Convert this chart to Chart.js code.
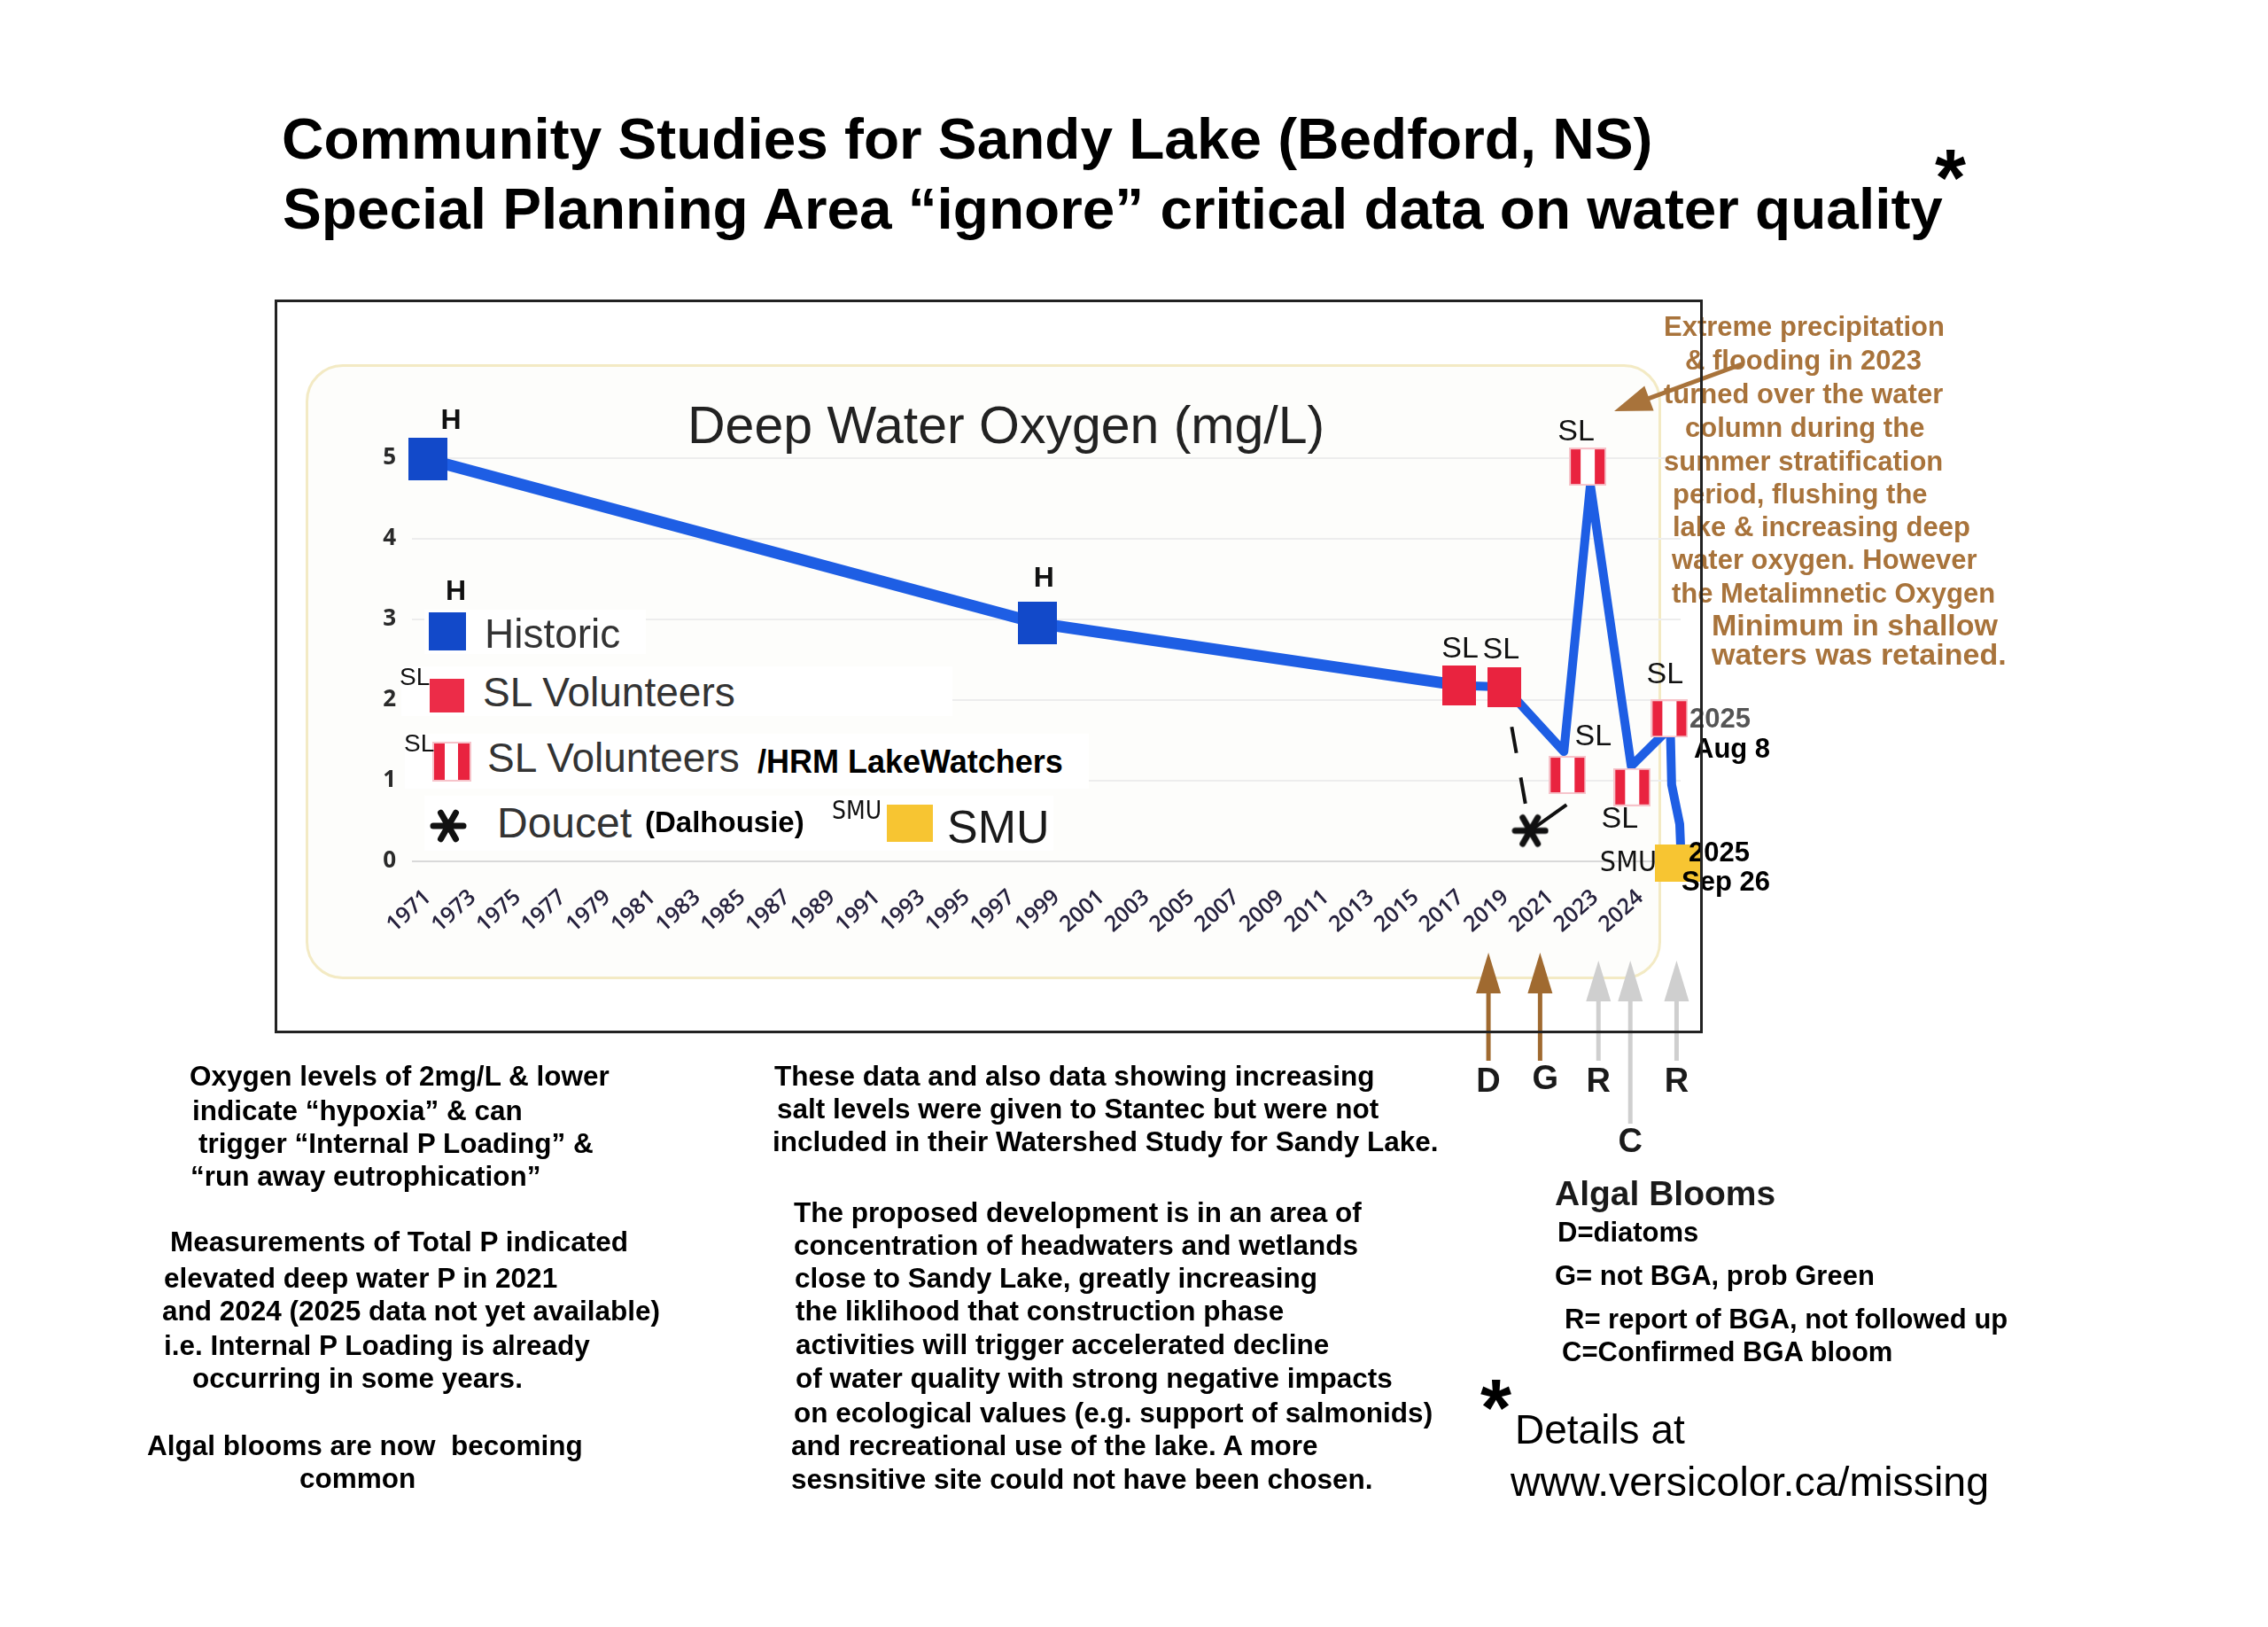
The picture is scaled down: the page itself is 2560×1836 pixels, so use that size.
<!DOCTYPE html>
<html>
<head>
<meta charset="utf-8">
<title>Deep Water Oxygen - Sandy Lake</title>
<script src="https://cdn.jsdelivr.net/npm/chart.js@4.4.1/dist/chart.umd.min.js"></script>
<style>
  html, body { margin:0; padding:0; background:#fff; }
  #page { position:relative; width:2560px; height:1836px; overflow:hidden;
          font-family:"Liberation Sans", Arial, sans-serif; color:#000; }
  #panel { position:absolute; left:345px; top:411px; width:1530px; height:694px;
           border:3px solid #f3eac4; border-radius:42px; background:#fdfdfb; box-sizing:border-box; }
  #frame { position:absolute; left:310px; top:338px; width:1612px; height:828px;
           border:3px solid #222; box-sizing:border-box; pointer-events:none; }
  #chart { position:absolute; left:0; top:0; }
  .t { position:absolute; white-space:pre; line-height:1; }
  .box { position:absolute; }
  .row { position:absolute; background:#fff; }
  .striped { background:linear-gradient(to right,#e9233f 0 30%,#fff 30% 68%,#e9233f 68% 100%);
             box-shadow:0 0 0 2px #f6c3ca; }
</style>
</head>
<body>
<div id="page">
  <div id="panel"></div>
  <canvas id="chart" width="2560" height="1836"></canvas>
  <div id="legend"></div>
  <div id="texts"></div>
  <div id="frame"></div>
</div>
<script>
// Tick labels of the x axis (one slot per label)
const tickLabels = ['1971','1973','1975','1977','1979','1981','1983','1985','1987','1989',
  '1991','1993','1995','1997','1999','2001','2003','2005','2007','2009',
  '2011','2013','2015','2017','2019','2021','2023','2024'];
const yTicks = [0, 1, 2, 3, 4, 5];

// Blue trace (x in tick slots, y in mg/L)
const pathX = [0, 13.58, 22.97, 23.98, 25.30, 25.89, 26.80, 27.67, 27.70, 27.88, 27.90];
const pathY = [4.98, 2.95, 2.18, 2.16, 1.36, 4.66, 1.18, 1.66, 0.95, 0.46, 0.19];

// Markers
const historicX = [0, 13.58];
const historicY = [4.98, 2.95];
const slX = [22.97, 23.98];
const slY = [2.18, 2.16];
const lakeWatchX = [25.38, 25.83, 26.82, 27.65];
const lakeWatchY = [1.07, 4.89, 0.92, 1.77];
const doucetX = [24.55];
const doucetY = [0.38];
const smuX = [27.86];
const smuY = [-0.02];

// Doucet links (dashed from 2019, stroke to 2021)
const dashX = [23.98, 24.55];
const dashY = [2.16, 0.38];
const curlX = [24.55, 25.36];
const curlY = [0.38, 0.70];

// Algal bloom arrows under the axis
const bloomX = [23.62, 24.77, 26.07, 26.78, 27.81];
const bloomCodes = ['D', 'G', 'R', 'C', 'R'];

const pts = (xs, ys) => xs.map((v, i) => ({x: v, y: ys[i]}));

// marker images
function rectImg(w, h, fill){
  const c = document.createElement('canvas'); c.width = w; c.height = h;
  const g = c.getContext('2d'); g.fillStyle = fill; g.fillRect(0, 0, w, h);
  return c;
}
function stripedImg(w, h){
  const c = document.createElement('canvas'); c.width = w; c.height = h;
  const g = c.getContext('2d');
  g.fillStyle = '#f6c3ca'; g.fillRect(0, 0, w, h);
  g.fillStyle = '#e9233f'; g.fillRect(2, 2, w-4, h-4);
  g.fillStyle = '#ffffff'; g.fillRect(Math.round(w*0.30), 2, Math.round(w*0.38), h-4);
  return c;
}
function starImg(s){
  const c = document.createElement('canvas'); c.width = s; c.height = s;
  const g = c.getContext('2d');
  g.strokeStyle = '#111'; g.lineWidth = 7; g.lineCap = 'round';
  const r = s/2 - 4;
  for (let k = 0; k < 3; k++){
    const a = k*Math.PI/3;
    g.beginPath();
    g.moveTo(s/2 - r*Math.cos(a), s/2 - r*Math.sin(a));
    g.lineTo(s/2 + r*Math.cos(a), s/2 + r*Math.sin(a));
    g.stroke();
  }
  return c;
}

const tagFont = '34px "Liberation Sans", Arial, sans-serif';
const tagGroups = [
  {xs: historicX, ys: historicY, tags: ['H','H'], dx: [26, 7], dy: [-43, -50], font: 'bold 32px "Liberation Sans", Arial, sans-serif'},
  {xs: slX, ys: slY, tags: ['SL','SL'], dx: [1, -4], dy: [-41, -42], font: tagFont},
  {xs: lakeWatchX, ys: lakeWatchY, tags: ['SL','SL','SL','SL'], dx: [29, -13, -14, -5], dy: [-43, -39, 36, -49], font: tagFont},
  {xs: smuX, ys: smuY, tags: ['SMU'], dx: [-57], dy: [1], font: '32px "Liberation Sans Narrow", "DejaVu Sans Condensed", sans-serif'}
];

const overlay = {
  id: 'overlay',
  afterDatasetsDraw(chart){
    const {ctx, scales: {x, y}} = chart;
    ctx.save();
    ctx.textAlign = 'center';
    ctx.textBaseline = 'middle';
    ctx.fillStyle = '#111';
    tagGroups.forEach(g => {
      ctx.font = g.font;
      g.xs.forEach((xv, i) => {
        ctx.fillText(g.tags[i], x.getPixelForValue(xv) + g.dx[i], y.getPixelForValue(g.ys[i]) + g.dy[i]);
      });
    });

    // bloom arrows
    bloomX.forEach((bx, i) => {
      const px = x.getPixelForValue(bx);
      const brown = i < 2;
      const col = brown ? '#a06a30' : '#cfcfcf';
      const tip = brown ? 1075 : 1084;
      const end = bloomCodes[i] === 'C' ? 1268 : 1197;
      ctx.strokeStyle = col; ctx.fillStyle = col; ctx.lineWidth = 5;
      ctx.beginPath(); ctx.moveTo(px, tip + 30); ctx.lineTo(px, end); ctx.stroke();
      ctx.beginPath(); ctx.moveTo(px, tip); ctx.lineTo(px - 14, tip + 46); ctx.lineTo(px + 14, tip + 46); ctx.closePath(); ctx.fill();
      ctx.fillStyle = '#1a1a1a';
      ctx.font = 'bold 38px "Liberation Sans", Arial, sans-serif';
      const ly = bloomCodes[i] === 'C' ? 1290 : (bloomCodes[i] === 'G' ? 1219 : 1222);
      ctx.fillText(bloomCodes[i], px + (bloomCodes[i] === 'G' ? 6 : 0), ly);
    });

    // brown pointer to the 2023 peak
    const x0 = 1966, y0 = 411, x1 = 1822, y1 = 464;
    const ang = Math.atan2(y1 - y0, x1 - x0);
    ctx.strokeStyle = '#a8733b'; ctx.fillStyle = '#a8733b'; ctx.lineWidth = 5;
    ctx.beginPath(); ctx.moveTo(x0, y0); ctx.lineTo(x1 - 30*Math.cos(ang), y1 - 30*Math.sin(ang)); ctx.stroke();
    ctx.beginPath();
    ctx.moveTo(x1, y1);
    ctx.lineTo(x1 - 42*Math.cos(ang) + 15*Math.sin(ang), y1 - 42*Math.sin(ang) - 15*Math.cos(ang));
    ctx.lineTo(x1 - 42*Math.cos(ang) - 15*Math.sin(ang), y1 - 42*Math.sin(ang) + 15*Math.cos(ang));
    ctx.closePath(); ctx.fill();
    ctx.restore();
  }
};

new Chart(document.getElementById('chart'), {
  type: 'scatter',
  data: {
    datasets: [
      {data: pts(historicX, historicY), pointStyle: rectImg(44, 48, '#1249c9'), pointRadius: 20, order: 0, clip: false},
      {data: pts(slX, slY), pointStyle: rectImg(38, 45, '#e9233f'), pointRadius: 20, order: 0, clip: false},
      {data: pts(lakeWatchX, lakeWatchY), pointStyle: stripedImg(42, 43), pointRadius: 20, order: 0, clip: false},
      {data: pts(smuX, smuY), pointStyle: rectImg(53, 42, '#f7c532'), pointRadius: 20, order: 0, clip: false},
      {data: pts(doucetX, doucetY), pointStyle: starImg(42), pointRadius: 20, order: 0, clip: false},
      {type: 'line', data: pts(pathX, pathY), borderColor: '#1e5ee4', pointRadius: 0, tension: 0,
       borderJoinStyle: 'round', borderCapStyle: 'round', order: 5, clip: false,
       segment: {borderWidth: c => c.p0DataIndex < 2 ? 13 : 10}},
      {type: 'line', data: pts(dashX, dashY), borderColor: '#111', borderWidth: 4, borderDash: [30, 28],
       borderDashOffset: 12.3, pointRadius: 0, order: 6, clip: false},
      {type: 'line', data: pts(curlX, curlY), borderColor: '#111', borderWidth: 4, pointRadius: 0, order: 6, clip: false}
    ]
  },
  options: {
    responsive: false,
    devicePixelRatio: 1,
    animation: false,
    layout: {padding: {left: 0, top: 471, right: 663, bottom: 0}},
    plugins: {legend: {display: false}, tooltip: {enabled: false}, title: {display: false}},
    scales: {
      x: {
        type: 'linear', min: -0.355, max: 27.9,
        afterBuildTicks: s => { s.ticks = tickLabels.map((_, i) => ({value: i})); },
        afterFit: s => { s.height = 864; },
        ticks: {autoSkip: false, minRotation: 42, maxRotation: 42, padding: 18,
          callback: v => tickLabels[v],
          color: '#26213d', font: {family: '"Open Sans", sans-serif', size: 25, weight: '600'}},
        grid: {display: false},
        border: {display: false}
      },
      y: {
        min: 0, max: 5.5,
        afterBuildTicks: s => { s.ticks = yTicks.map(v => ({value: v})); },
        afterFit: s => { s.width = 465; },
        ticks: {padding: 18, color: '#2a2a2a', font: {family: '"Open Sans", sans-serif', size: 26, weight: '700'}},
        grid: {drawTicks: false, lineWidth: 2, color: c => c.tick && c.tick.value === 0 ? '#d9d9d9' : '#ededed'},
        border: {display: false}
      }
    }
  },
  plugins: [overlay]
});

// ---- text layer ----
function put(parent, txt, x, cy, size, o){
  o = o || {};
  const d = document.createElement('div');
  d.className = 't';
  d.textContent = txt;
  d.style.left = x + 'px';
  d.style.top = (cy - size*0.49) + 'px';
  d.style.fontSize = size + 'px';
  if (o.bold) d.style.fontWeight = 'bold';
  if (o.color) d.style.color = o.color;
  if (o.family) d.style.fontFamily = o.family;
  parent.appendChild(d);
  return d;
}
function block(parent, x, y, w, h, cls, bg){
  const d = document.createElement('div');
  d.className = cls; d.style.left = x+'px'; d.style.top = y+'px';
  d.style.width = w+'px'; d.style.height = h+'px';
  if (bg) d.style.background = bg;
  parent.appendChild(d);
  return d;
}

const T = document.getElementById('texts');
const L = document.getElementById('legend');
const narrow = '"Liberation Sans Narrow", "DejaVu Sans Condensed", sans-serif';

// titles
put(T, 'Community Studies for Sandy Lake (Bedford, NS)', 318, 156, 65.7, {bold: true});
put(T, 'Special Planning Area \u201cignore\u201d critical data on water quality', 319, 235, 65.7, {bold: true});
put(T, '*', 2184, 200, 90, {bold: true});
put(T, 'Deep Water Oxygen (mg/L)', 776, 480, 59, {color: '#222'});

// legend
block(L, 479, 688, 250, 50, 'row');
block(L, 453, 752, 622, 56, 'row');
block(L, 457, 828, 772, 62, 'row');
block(L, 479, 898, 710, 62, 'row');
block(L, 484, 691, 42, 43, 'box', '#1249c9');
block(L, 485, 766, 39, 38, 'box', '#ec2c48');
block(L, 490, 839, 40, 41, 'box striped');
block(L, 1001, 908, 52, 42, 'box', '#f7c532');
const star = document.createElement('canvas');
star.style.position = 'absolute'; star.style.left = '485px'; star.style.top = '911px';
star.width = 42; star.height = 42;
star.getContext('2d').drawImage(starImg(42), 0, 0);
L.appendChild(star);
put(L, 'H', 503, 666, 32, {bold: true, color: '#111'});
put(L, 'SL', 451, 764, 28, {color: '#111'});
put(L, 'SL', 456, 839, 28, {color: '#111'});
put(L, 'Historic', 547, 715, 46, {color: '#333'});
put(L, 'SL Volunteers', 545, 781, 46, {color: '#333'});
put(L, 'SL Volunteers', 550, 855, 46, {color: '#333'});
put(L, '/HRM LakeWatchers', 855, 860, 36, {bold: true});
put(L, 'Doucet', 561, 929, 48, {color: '#333'});
put(L, '(Dalhousie)', 728, 927, 33, {bold: true});
put(L, 'SMU', 939, 915, 28, {family: narrow, color: '#111'});
put(L, 'SMU', 1069, 932, 52, {color: '#1a1a1a'});

// date notes at the 2025 points
put(T, '2025', 1907, 810, 31, {bold: true, color: '#555'});
put(T, 'Aug 8', 1912, 844, 31, {bold: true});
put(T, '2025', 1906, 961, 31, {bold: true});
put(T, 'Sep 26', 1898, 994, 31, {bold: true});

// brown note
const brown = '#a8733b';
[
  ['Extreme precipitation', 1878, 368, 31],
  ['& flooding in 2023', 1902, 406, 31],
  ['turned over the water', 1878, 444, 31],
  ['column during the', 1902, 482, 31],
  ['summer stratification', 1878, 520, 31],
  ['period, flushing the', 1888, 557, 31],
  ['lake & increasing deep', 1888, 594, 31],
  ['water oxygen. However', 1887, 631, 31],
  ['the Metalimnetic Oxygen', 1887, 669, 31],
  ['Minimum in shallow', 1932, 705, 34],
  ['waters was retained.', 1932, 738, 34]
].forEach(r => put(T, r[0], r[1], r[2], r[3], {bold: true, color: brown}));

// left notes
[
  ['Oxygen levels of 2mg/L & lower', 214, 1214],
  ['indicate \u201chypoxia\u201d & can', 217, 1253],
  ['trigger \u201cInternal P Loading\u201d &', 224, 1290],
  ['\u201crun away eutrophication\u201d', 215, 1327],
  ['Measurements of Total P indicated', 192, 1401],
  ['elevated deep water P in 2021', 185, 1442],
  ['and 2024 (2025 data not yet available)', 183, 1479],
  ['i.e. Internal P Loading is already', 185, 1518],
  ['occurring in some years.', 217, 1555],
  ['Algal blooms are now  becoming', 166, 1631],
  ['common', 338, 1668]
].forEach(r => put(T, r[0], r[1], r[2], 31.5, {bold: true}));

// middle notes
[
  ['These data and also data showing increasing', 874, 1214],
  ['salt levels were given to Stantec but were not', 877, 1251],
  ['included in their Watershed Study for Sandy Lake.', 872, 1288],
  ['The proposed development is in an area of', 896, 1368],
  ['concentration of headwaters and wetlands', 896, 1405],
  ['close to Sandy Lake, greatly increasing', 897, 1442],
  ['the liklihood that construction phase', 898, 1479],
  ['activities will trigger accelerated decline', 898, 1517],
  ['of water quality with strong negative impacts', 898, 1555],
  ['on ecological values (e.g. support of salmonids)', 896, 1594],
  ['and recreational use of the lake. A more', 893, 1631],
  ['sesnsitive site could not have been chosen.', 893, 1669]
].forEach(r => put(T, r[0], r[1], r[2], 31.5, {bold: true}));

// bloom key
put(T, 'Algal Blooms', 1755, 1346, 39, {bold: true, color: '#1a1a1a'});
put(T, 'D=diatoms', 1758, 1390, 31, {bold: true});
put(T, 'G= not BGA, prob Green', 1755, 1439, 31, {bold: true});
put(T, 'R= report of BGA, not followed up', 1766, 1488, 31, {bold: true});
put(T, 'C=Confirmed BGA bloom', 1763, 1525, 31, {bold: true});
put(T, '*', 1671, 1588, 90, {bold: true});
put(T, 'Details at', 1710, 1613, 46);
put(T, 'www.versicolor.ca/missing', 1705, 1672, 46.5);
</script>
</body>
</html>
